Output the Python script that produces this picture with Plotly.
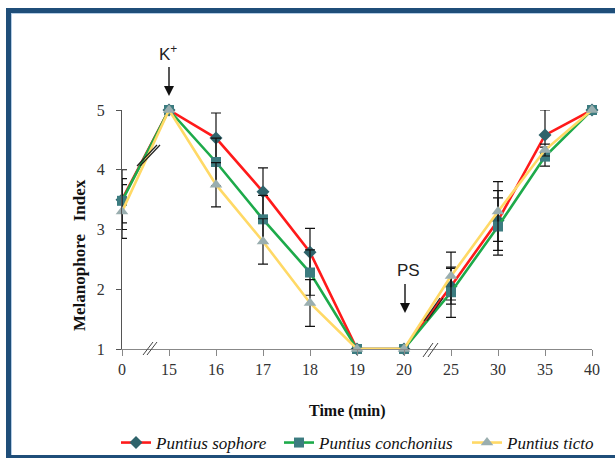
import plotly.graph_objects as go

# ---- data ----
time_labels = ["0", "15", "16", "17", "18", "19", "20", "25", "30", "35", "40"]
sophore = [3.5, 5, 4.53, 3.63, 2.62, 1, 1, 2.05, 3.15, 4.58, 5]
conchonius = [3.48, 5, 4.13, 3.17, 2.28, 1, 1, 1.95, 3.05, 4.22, 5]
ticto = [3.3, 5, 3.75, 2.8, 1.77, 1, 1, 2.22, 3.3, 4.33, 5]
sophore_err = [0.5, 0, 0.42, 0.4, 0.4, 0, 0, 0.3, 0.5, 0.42, 0]
conchonius_err = [0.37, 0, 0.4, 0.4, 0.38, 0, 0, 0.42, 0.48, 0.16, 0]
ticto_err = [0.45, 0, 0.37, 0.38, 0.39, 0, 0, 0.4, 0.5, 0.1, 0]
y_ticks = [1, 2, 3, 4, 5]

# ---- layout geometry (pixels) ----
W, H = 615, 458
L, R, T, B = 122, 592, 110, 349


def px(x):
    return (x - L) / (R - L)


def py(y):
    return (B - y) / (B - T)


serif = "Liberation Serif"
sans = "Liberation Sans"

fig = go.Figure()

series = [
    ("Puntius sophore", sophore, sophore_err, "#FF1A1A", "diamond", "#2F636B", 10, "legend", 116),
    ("Puntius conchonius", conchonius, conchonius_err, "#1DAA4A", "square", "#3C7C80", 10, "legend2", 279),
    ("Puntius ticto", ticto, ticto_err, "#FFD966", "triangle-up", "#9AAEAF", 11, "legend3", 467),
]
legend_defs = {}
for name, vals, err, lc, sym, mc, ms, leg, lx in series:
    fig.add_trace(go.Scatter(
        x=time_labels, y=vals, name=name, mode="lines+markers",
        line=dict(color=lc, width=2.6),
        marker=dict(symbol=sym, color=mc, size=ms, line=dict(width=0)),
        error_y=dict(type="data", array=err, visible=True, color="#111111",
                     thickness=1.2, width=5),
        cliponaxis=False, legend=leg,
    ))
    legend_defs[leg] = dict(
        orientation="h", x=px(lx), y=py(443), xanchor="left", yanchor="middle",
        font=dict(family=serif, size=17, color="#111111", style="italic"),
        bgcolor="rgba(0,0,0,0)", itemwidth=30)

shapes = []
blue = "#1F4E79"
# frame
shapes.append(dict(type="rect", xref="paper", yref="paper", x0=px(6), x1=px(630),
                   y0=py(13), y1=py(8), fillcolor=blue, line=dict(width=0), layer="above"))
shapes.append(dict(type="rect", xref="paper", yref="paper", x0=px(6), x1=px(11),
                   y0=py(470), y1=py(8), fillcolor=blue, line=dict(width=0), layer="above"))
shapes.append(dict(type="rect", xref="paper", yref="paper", x0=px(6), x1=px(630),
                   y0=py(470), y1=py(455), fillcolor=blue, line=dict(width=0), layer="above"))
shapes.append(dict(type="line", xref="paper", yref="paper", x0=px(11.5), x1=px(11.5),
                   y0=py(455), y1=py(13), line=dict(color="#B4CDE6", width=1)))
shapes.append(dict(type="line", xref="paper", yref="paper", x0=px(11), x1=px(630),
                   y0=py(13.5), y1=py(13.5), line=dict(color="#B4CDE6", width=1)))


def slash_pair(x0, y0, x1, y1, dx, color="#222222", w=1):
    for o in (0, dx):
        shapes.append(dict(type="line", xref="paper", yref="paper",
                           x0=px(x0 + o), y0=py(y0), x1=px(x1 + o), y1=py(y1),
                           line=dict(color=color, width=w), layer="above"))


def down_arrow(x, ytop, ytip):
    shapes.append(dict(type="line", xref="paper", yref="paper", x0=px(x), x1=px(x),
                       y0=py(ytop), y1=py(ytip - 8), line=dict(color="#111111", width=1.4)))
    path = "M {a},{b} L {c},{b} L {d},{e} Z".format(
        a=px(x - 5), b=py(ytip - 10), c=px(x + 5), d=px(x), e=py(ytip))
    shapes.append(dict(type="path", xref="paper", yref="paper", path=path,
                       fillcolor="#111111", line=dict(width=0)))


# axis breaks
slash_pair(143, 355, 153, 342, 4, "#444444", 1)
slash_pair(423, 357, 433, 343, 5, "#444444", 1)
# line breaks
slash_pair(137, 166, 157, 145, 3, "#222222", 1.2)
slash_pair(424, 321, 440, 298, 3, "#222222", 1.2)
# arrows
down_arrow(169, 67, 96)
down_arrow(405, 284, 313)

annotations = [
    dict(text="K<sup>+</sup>", x=px(168), y=py(53)),
    dict(text="PS", x=px(408), y=py(270)),
    dict(text="<b>Time (min)</b>", x=px(347), y=py(411),
         font=dict(family=serif, size=16, color="#111111")),
    dict(text="<b>Melanophore   Index</b>", x=px(79), y=py(255), textangle=-90,
         font=dict(family=serif, size=17, color="#111111")),
]
for a in annotations:
    a.setdefault("font", dict(family=sans, size=17, color="#222222"))
    a.update(xref="paper", yref="paper", showarrow=False, xanchor="center", yanchor="middle")

fig.update_layout(
    width=W, height=H,
    margin=dict(l=L, r=W - R, t=T, b=H - B, autoexpand=False),
    paper_bgcolor="white", plot_bgcolor="white",
    showlegend=True,
    xaxis=dict(type="category", categoryorder="array", categoryarray=time_labels,
               range=[0, len(time_labels) - 1], showgrid=False, zeroline=False,
               showline=True, linecolor="#888888", linewidth=1,
               ticks="outside", ticklen=6, tickcolor="#888888", tickwidth=1,
               tickfont=dict(family=serif, size=16, color="#333333")),
    yaxis=dict(range=[1, 5], tickvals=y_ticks, showgrid=False, zeroline=False,
               showline=True, linecolor="#555555", linewidth=1,
               ticks="outside", ticklen=5, tickcolor="#555555", tickwidth=1,
               ticklabelstandoff=8,
               tickfont=dict(family=serif, size=16, color="#333333")),
    shapes=shapes, annotations=annotations,
    **legend_defs,
)

fig.write_html(
    "out.html",
    config={"displayModeBar": False},
    post_script="document.body.style.margin='0';document.body.style.overflow='hidden';",
)
